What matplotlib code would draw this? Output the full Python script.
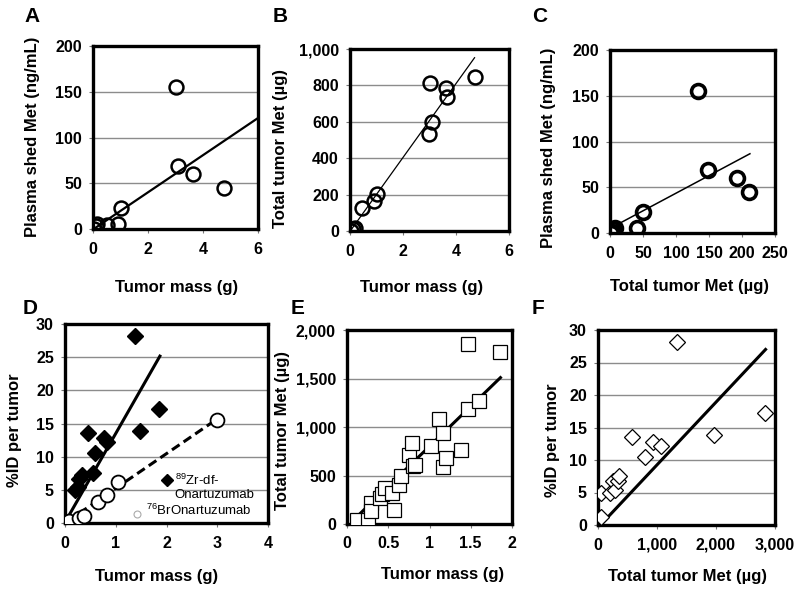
import numpy as np
import matplotlib
matplotlib.use("Agg")
import matplotlib.pyplot as plt
from matplotlib.ticker import FuncFormatter

plt.rcParams['font.family'] = ['Liberation Sans', 'DejaVu Sans']
plt.rcParams['font.weight'] = 'bold'
plt.rcParams['mathtext.fontset'] = 'custom'
plt.rcParams['mathtext.rm'] = 'Liberation Sans:weight=normal'
plt.rcParams['mathtext.default'] = 'rm'

# ---------------- data ----------------
# Panel A: tumor mass (g) vs plasma shed Met (ng/mL)
a_mass = [0.03, 0.1, 0.15, 0.5, 0.9, 1.0, 3.0, 3.1, 3.65, 4.75]
a_shed = [0, 3, 6, 4, 5, 23, 155, 69, 60, 45]
a_fit = (20.3, -0.5, 0.03, 6.0)   # slope, intercept, x0, x1

# Panel B: tumor mass (g) vs total tumor Met (ug)
b_mass = [0.04, 0.13, 0.2, 0.47, 0.9, 1.03, 2.98, 3.08, 3.03, 3.61, 3.65, 4.72]
b_met = [0, 9, 18, 125, 165, 201, 533, 600, 815, 784, 734, 848]
b_fit = (203.0, -2.0, 0.0, 4.7)

# Panel C: total tumor Met (ug) vs plasma shed Met (ng/mL)
c_met = [2, 3, 5, 7, 41, 50, 133, 149, 193, 210]
c_shed = [0, 1, 4, 6, 5, 23, 155, 69, 60, 45]
c_fit = (0.385, 5.0, 0.0, 212.0)

# Panel D: tumor mass (g) vs %ID per tumor
d_zr_mass = [0.2, 0.25, 0.28, 0.33, 0.46, 0.56, 0.59, 0.77, 0.82, 1.38, 1.47, 1.85]
d_zr_id = [5.0, 5.4, 6.7, 7.3, 13.5, 7.5, 10.5, 12.8, 12.2, 28.2, 13.8, 17.2]
d_br_mass = [0.07, 0.28, 0.37, 0.66, 0.82, 1.05, 3.0]
d_br_id = [0.3, 0.7, 1.1, 3.1, 4.2, 6.2, 15.6]
d_zr_fit = (13.4, 0.1, 0.03, 1.87)
d_br_fit = (5.23, 0.0, 0.05, 3.0)
d_labels = ["$^{89}$Zr-df-\nOnartuzumab", "$^{76}$BrOnartuzumab"]

# Panel E: tumor mass (g) vs total tumor Met (ug)
e_mass = [0.125, 0.25, 0.295, 0.29, 0.40, 0.42, 0.46, 0.54, 0.57, 0.63, 0.66, 0.75,
          0.79, 0.80, 0.83, 1.02, 1.12, 1.16, 1.16, 1.20, 1.38, 1.47, 1.60, 1.47, 1.85]
e_met = [45, 45, 216, 130, 268, 312, 367, 319, 147, 405, 490, 707,
         840, 593, 610, 800, 1080, 937, 583, 680, 765, 1183, 1270, 1852, 1777]
e_fit = (824.0, -23.5, 0.14, 1.86)

# Panel F: total tumor Met (ug) vs %ID per tumor
f_met = [56, 56, 197, 254, 293, 333, 350, 575, 801, 930, 1066, 1337, 1968, 2831]
f_id = [5.0, 1.3, 5.0, 6.8, 5.4, 6.7, 7.6, 13.6, 10.5, 12.8, 12.2, 28.1, 13.8, 17.2]
f_fit = (0.00965, -0.4, 50.0, 2840.0)

# ---------------- layout ----------------
W, H = 800, 593
fig = plt.figure(figsize=(W / 100, H / 100), dpi=100)

def make_ax(x0, y0, x1, y1):
    return fig.add_axes([x0 / W, 1 - y1 / H, (x1 - x0) / W, (y1 - y0) / H])

comma = FuncFormatter(lambda v, p: f"{int(v):,}")
plain = FuncFormatter(lambda v, p: f"{v:g}")

TICK_FS = 11.5
LAB_FS = 12

def style(ax, xlim, xticks, ylim, yticks, xfmt, yfmt, xlabel, ylabel, xlab_px, ylab_px, letter, letter_px):
    ax.set_xlim(*xlim)
    ax.set_ylim(*ylim)
    ax.set_xticks(xticks)
    ax.set_yticks(yticks)
    ax.xaxis.set_major_formatter(xfmt)
    ax.yaxis.set_major_formatter(yfmt)
    ax.grid(axis='y', color='#8c8c8c', lw=1.0)
    ax.set_axisbelow(True)
    for s in ax.spines.values():
        s.set_linewidth(2.4)
        s.set_color('black')
    ax.tick_params(direction='out', length=3, width=0.8, color='#777777',
                   labelsize=TICK_FS)
    ax.tick_params(axis='x', pad=6)
    ax.tick_params(axis='y', pad=5)
    ax.set_xlabel(xlabel, fontsize=LAB_FS, fontweight='bold')
    ax.set_ylabel(ylabel, fontsize=LAB_FS, fontweight='bold')
    ax.xaxis.set_label_coords(xlab_px[0] / W, 1 - xlab_px[1] / H, transform=fig.transFigure)
    ax.yaxis.set_label_coords(ylab_px[0] / W, 1 - ylab_px[1] / H, transform=fig.transFigure)
    ax.xaxis.label.set_va('center')
    ax.yaxis.label.set_va('center')
    fig.text(letter_px[0] / W, 1 - letter_px[1] / H, letter, fontsize=15,
             fontweight='bold', ha='center', va='center')

def fit_line(ax, fit, **kw):
    s, b, x0, x1 = fit
    xs = np.array([x0, x1])
    ax.plot(xs, s * xs + b, **kw)

# Panel A
axA = make_ax(93, 46, 258, 229)
fit_line(axA, a_fit, color='black', lw=1.6, zorder=2)
axA.plot(a_mass, a_shed, 'o', ms=10, mfc='none', mec='black', mew=1.8, zorder=3)
style(axA, (0, 6), [0, 2, 4, 6], (0, 200), [0, 50, 100, 150, 200], plain, plain,
      'Tumor mass (g)', 'Plasma shed Met (ng/mL)', (177, 288), (33, 137), 'A', (32, 17))

# Panel B
axB = make_ax(350, 49, 509, 231)
fit_line(axB, b_fit, color='black', lw=0.9, zorder=2)
axB.plot(b_mass, b_met, 'o', ms=10, mfc='none', mec='black', mew=1.8, zorder=3)
style(axB, (0, 6), [0, 2, 4, 6], (0, 1000), [0, 200, 400, 600, 800, 1000], plain, comma,
      'Tumor mass (g)', 'Total tumor Met (µg)', (422, 288), (280, 148), 'B', (280, 17))

# Panel C
axC = make_ax(610, 50, 775, 233)
fit_line(axC, c_fit, color='black', lw=1.1, zorder=2)
axC.plot(c_met, c_shed, 'o', ms=10, mfc='none', mec='black', mew=2.6, zorder=3)
style(axC, (0, 250), [0, 50, 100, 150, 200, 250], (0, 200), [0, 50, 100, 150, 200], plain, plain,
      'Total tumor Met (µg)', 'Plasma shed Met (ng/mL)', (690, 286), (548, 148), 'C', (540, 17))

# Panel D
axD = make_ax(65, 324, 268, 523)
fit_line(axD, d_zr_fit, color='black', lw=2.2, zorder=2)
fit_line(axD, d_br_fit, color='black', lw=2.2, ls=(0, (3, 1.6)), zorder=2)
axD.plot(d_zr_mass, d_zr_id, 'D', ms=8.5, mfc='black', mec='black', zorder=3)
axD.plot(d_br_mass, d_br_id, 'o', ms=10, mfc='white', mec='black', mew=1.3, zorder=3)
style(axD, (0, 4), [0, 1, 2, 3, 4], (0, 30), [0, 5, 10, 15, 20, 25, 30], plain, plain,
      'Tumor mass (g)', '%ID per tumor', (157, 577), (14, 430), 'D', (30, 308))
# legend (Excel-style keys with left-aligned labels)
tD = axD.transAxes
axD.plot([0.50], [0.217], 'D', ms=6, mfc='black', mec='black', transform=tD, zorder=4)
axD.text(0.54, 0.25, d_labels[0], transform=tD, ha='left', va='top',
         fontsize=9.5, fontweight='normal', linespacing=1.1, zorder=4)
axD.plot([0.357], [0.047], 'o', ms=5, mfc='white', mec='#aaaaaa', mew=0.8, transform=tD, zorder=4)
axD.text(0.40, 0.062, d_labels[1], transform=tD, ha='left', va='center',
         fontsize=9.5, fontweight='normal', zorder=4)

# Panel E
axE = make_ax(347, 330, 512, 524)
fit_line(axE, e_fit, color='black', lw=2.2, zorder=2)
axE.plot(e_mass, e_met, 's', ms=10, mfc='white', mec='black', mew=0.9, zorder=3)
style(axE, (0, 2), [0, 0.5, 1, 1.5, 2], (0, 2000), [0, 500, 1000, 1500, 2000], plain, comma,
      'Tumor mass (g)', 'Total tumor Met (µg)', (443, 575), (283, 430), 'E', (298, 308))

# Panel F
axF = make_ax(598, 330, 775, 525)
fit_line(axF, f_fit, color='black', lw=2.2, zorder=2)
axF.plot(f_met, f_id, 'D', ms=8.5, mfc='white', mec='black', mew=0.9, zorder=3)
style(axF, (0, 3000), [0, 1000, 2000, 3000], (0, 30), [0, 5, 10, 15, 20, 25, 30], comma, plain,
      'Total tumor Met (µg)', '%ID per tumor', (687, 577), (552, 440), 'F', (538, 308))

fig.savefig('out.png', dpi=100)
